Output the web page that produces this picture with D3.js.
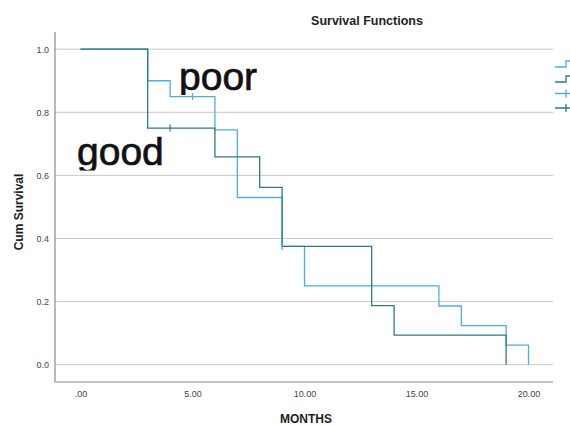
<!DOCTYPE html>
<html>
<head>
<meta charset="utf-8">
<script src="https://cdn.jsdelivr.net/npm/d3@7"></script>
<style>
  body { margin: 0; background: #fff; }
  svg text { font-family: "Liberation Sans", Arial, sans-serif; }
</style>
</head>
<body>
<div id="chart"></div>
<script>
// step points of each survival curve (months, cum survival)
const poorTimes = [0, 3, 4, 6, 7, 9, 10, 16, 17, 19, 20];
const poorSurv = [1.0, 0.90, 0.85, 0.744, 0.53, 0.375, 0.25, 0.186, 0.124, 0.062, 0.0];
const goodTimes = [0, 3, 6, 8, 9, 13, 14, 19];
const goodSurv = [1.0, 0.75, 0.659, 0.562, 0.375, 0.187, 0.094, 0.0];
// censored cases
const poorCensorTimes = [5, 9];
const poorCensorSurv = [0.85, 0.375];
const goodCensorTimes = [4];
const goodCensorSurv = [0.75];
const xTicks = [0, 5, 10, 15, 20];
const yTicks = [0, 0.2, 0.4, 0.6, 0.8, 1.0];

const W = 570, H = 425;
const plotLeft = 55, plotRight = 553, plotBottom = 382, plotTop = 32;
const poorColor = "#4aaee2", goodColor = "#2c7c80";

const svg = d3.select("#chart").append("svg")
    .attr("width", W)
    .attr("height", H);

const x = d3.scaleLinear().domain([0, 20]).range([80.5, 528.5]);
const y = d3.scaleLinear().domain([0, 1]).range([364.7, 49.2]);

// gridlines
svg.append("g")
    .selectAll("line")
    .data(yTicks)
    .join("line")
    .attr("x1", plotLeft)
    .attr("x2", plotRight)
    .attr("y1", d => y(d))
    .attr("y2", d => y(d))
    .attr("stroke", "#c9c9c9")
    .attr("stroke-width", 1);

// axes
const yAxis = svg.append("g")
    .attr("transform", `translate(${plotLeft - 3},0)`)
    .call(d3.axisLeft(y).tickValues(yTicks).tickSize(0).tickFormat(d3.format(".1f")));
yAxis.select(".domain").remove();
yAxis.selectAll("text").attr("font-size", 9).attr("fill", "#444")
    .attr("font-family", "Liberation Sans, Arial, sans-serif");

const xAxis = svg.append("g")
    .attr("transform", `translate(0,${plotBottom + 6})`)
    .call(d3.axisBottom(x).tickValues(xTicks).tickSize(0)
        .tickFormat(d => d === 0 ? ".00" : d3.format(".2f")(d)));
xAxis.select(".domain").remove();
xAxis.selectAll("text").attr("font-size", 9).attr("fill", "#444")
    .attr("font-family", "Liberation Sans, Arial, sans-serif");

svg.append("line")
    .attr("x1", plotLeft).attr("x2", plotLeft)
    .attr("y1", plotTop).attr("y2", plotBottom)
    .attr("stroke", "#8a8a8a").attr("stroke-width", 1.2);
svg.append("line")
    .attr("x1", plotLeft).attr("x2", plotRight)
    .attr("y1", plotBottom).attr("y2", plotBottom)
    .attr("stroke", "#8a8a8a").attr("stroke-width", 1.2);

// curves
const line = d3.line()
    .x(d => x(d[0]))
    .y(d => y(d[1]))
    .curve(d3.curveStepAfter);

const curves = [
    { name: "poor", color: poorColor, pts: d3.zip(poorTimes, poorSurv) },
    { name: "good", color: goodColor, pts: d3.zip(goodTimes, goodSurv) }
];

svg.append("g")
    .selectAll("path")
    .data(curves)
    .join("path")
    .attr("d", d => line(d.pts))
    .attr("fill", "none")
    .attr("stroke", d => d.color)
    .attr("stroke-width", 1.3);

// censor marks
const censors = [
    ...d3.zip(poorCensorTimes, poorCensorSurv).map(p => ({ p, color: poorColor })),
    ...d3.zip(goodCensorTimes, goodCensorSurv).map(p => ({ p, color: goodColor }))
];
svg.append("g")
    .selectAll("line")
    .data(censors)
    .join("line")
    .attr("x1", d => x(d.p[0]))
    .attr("x2", d => x(d.p[0]))
    .attr("y1", d => y(d.p[1]) - 3.5)
    .attr("y2", d => y(d.p[1]) + 3.5)
    .attr("stroke", d => d.color)
    .attr("stroke-width", 1.2);

// titles
svg.append("text")
    .attr("x", 367).attr("y", 25)
    .attr("text-anchor", "middle")
    .attr("font-size", 12.5)
    .attr("font-weight", "bold")
    .attr("fill", "#222")
    .text("Survival Functions");

svg.append("text")
    .attr("transform", "translate(23,212) rotate(-90)")
    .attr("text-anchor", "middle")
    .attr("font-size", 12)
    .attr("font-weight", "bold")
    .attr("fill", "#222")
    .text("Cum Survival");

svg.append("text")
    .attr("x", 306).attr("y", 423)
    .attr("text-anchor", "middle")
    .attr("font-size", 12)
    .attr("font-weight", "bold")
    .attr("fill", "#222")
    .text("MONTHS");

// legend symbols, cut at the right edge
const legend = [
    { type: "step", color: poorColor, y: 65 },
    { type: "step", color: goodColor, y: 80 },
    { type: "cross", color: poorColor, y: 93.5 },
    { type: "cross", color: goodColor, y: 108 }
];
const lg = svg.append("g").selectAll("g").data(legend).join("g")
    .attr("transform", d => `translate(555,${d.y})`);
lg.filter(d => d.type === "step").append("path")
    .attr("d", "M0,2H11V-4H16")
    .attr("fill", "none")
    .attr("stroke", d => d.color)
    .attr("stroke-width", 1.3);
lg.filter(d => d.type === "cross").append("path")
    .attr("d", "M0,0H16M11,-4V4")
    .attr("fill", "none")
    .attr("stroke", d => d.color)
    .attr("stroke-width", 1.3);

// pasted group labels
svg.append("clipPath").attr("id", "poorClip")
    .append("rect").attr("x", 170).attr("y", 55).attr("width", 100).attr("height", 40);
svg.append("clipPath").attr("id", "goodClip")
    .append("rect").attr("x", 60).attr("y", 130).attr("width", 110).attr("height", 40.5);

svg.append("text")
    .attr("clip-path", "url(#poorClip)")
    .attr("x", 179).attr("y", 90)
    .attr("font-family", "Lato, 'Open Sans', sans-serif")
    .attr("font-size", 39)
    .attr("fill", "#111")
    .attr("stroke", "#111")
    .attr("stroke-width", 0.7)
    .text("poor");

svg.append("text")
    .attr("clip-path", "url(#goodClip)")
    .attr("x", 77).attr("y", 165)
    .attr("font-family", "Lato, 'Open Sans', sans-serif")
    .attr("font-size", 39)
    .attr("fill", "#111")
    .attr("stroke", "#111")
    .attr("stroke-width", 0.7)
    .text("good");
</script>
</body>
</html>
